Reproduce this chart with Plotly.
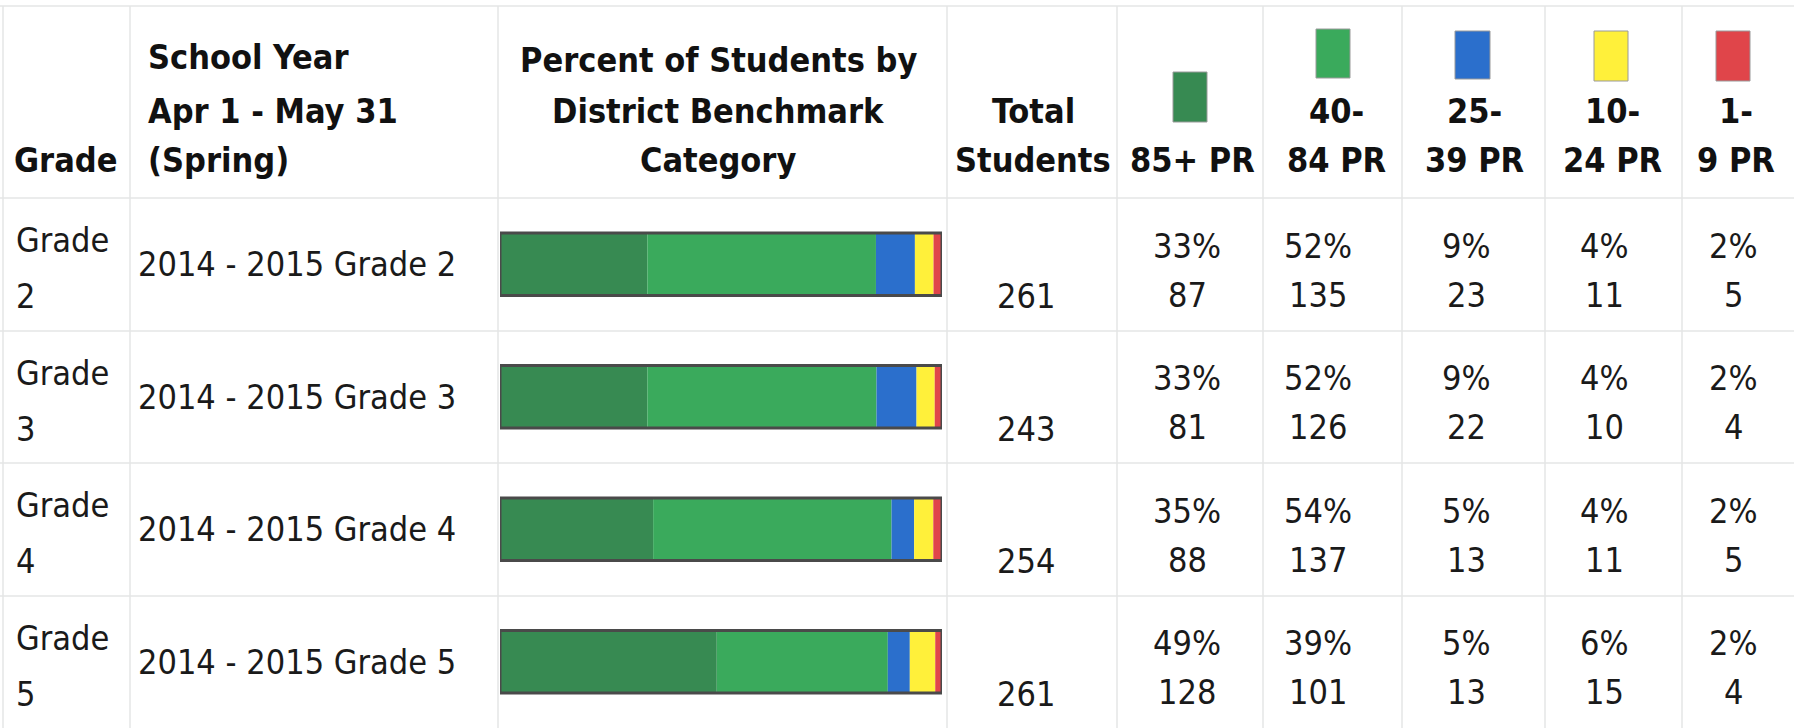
import plotly.graph_objects as go

W, H = 1794, 728

# ---------------- data ----------------
grade_top = ["Grade", "Grade", "Grade", "Grade"]
grade_num = ["2", "3", "4", "5"]
school_years = ["2014 - 2015 Grade 2", "2014 - 2015 Grade 3",
                "2014 - 2015 Grade 4", "2014 - 2015 Grade 5"]
totals = [261, 243, 254, 261]
categories = ["85+ PR", "40-84 PR", "25-39 PR", "10-24 PR", "1-9 PR"]
cat_header_top = ["", "40-", "25-", "10-", "1-"]
cat_header_bot = ["85+ PR", "84 PR", "39 PR", "24 PR", "9 PR"]
counts = {
    "85+ PR":   [87, 81, 88, 128],
    "40-84 PR": [135, 126, 137, 101],
    "25-39 PR": [23, 22, 13, 13],
    "10-24 PR": [11, 10, 11, 15],
    "1-9 PR":   [5, 4, 5, 4],
}
percents = {
    "85+ PR":   [33, 33, 35, 49],
    "40-84 PR": [52, 52, 54, 39],
    "25-39 PR": [9, 9, 5, 5],
    "10-24 PR": [4, 4, 4, 6],
    "1-9 PR":   [2, 2, 2, 2],
}
colors = ["#378a52", "#3aaa5c", "#2b6fcc", "#fff03a", "#e0454a"]

# ---------------- layout helpers ----------------
HEADER_BOTTOM = 198
FONT = "DejaVu Sans Condensed, Liberation Sans Narrow, DejaVu Sans, sans-serif"
px = lambda x: x / W
py = lambda y: 1 - y / H

fig = go.Figure()

rows = list(range(len(school_years)))
# stacked bars (fractions of total)
base = [0.0] * len(rows)
for cat, col in zip(categories, colors):
    frac = [c / t for c, t in zip(counts[cat], totals)]
    fig.add_trace(go.Bar(
        y=rows, x=frac, base=base, orientation="h", width=0.47,
        marker=dict(color=col, line=dict(width=0)), name=cat,
        hoverinfo="skip", showlegend=False,
    ))
    base = [b + f for b, f in zip(base, frac)]
# outline around each whole bar
fig.add_trace(go.Bar(
    y=rows, x=[1] * len(rows), base=[0] * len(rows), orientation="h", width=0.47,
    marker=dict(color="rgba(0,0,0,0)", line=dict(color="#4a4a4a", width=3)),
    hoverinfo="skip", showlegend=False,
))

annotations = []
def txt(x, y, s, size=34, bold=False, xanchor="center", yref="paper", color="#1a1a1a"):
    annotations.append(dict(
        x=x, y=y, xref="paper", yref=yref, text=s, showarrow=False,
        xanchor=xanchor, yanchor="middle",
        font=dict(family=FONT, size=size, color=color,
                  weight="bold" if bold else "normal"),
    ))

# header
txt(px(12), py(160), "Grade", bold=True, xanchor="left", color="#111")
for s, y in zip(["School Year", "Apr 1 - May 31", "(Spring)"], [57, 111, 160]):
    txt(px(146), py(y), s, bold=True, xanchor="left", color="#111")
for s, y in zip(["Percent of Students by", "District Benchmark", "Category"], [60, 111, 160]):
    txt(px(718), py(y), s, bold=True, color="#111")
txt(px(1033), py(111), "Total", bold=True, color="#111")
txt(px(1033), py(160), "Students", bold=True, color="#111")

col_centers = [1192, 1336, 1474, 1612, 1736]
for cx, top, bot in zip(col_centers, cat_header_top, cat_header_bot):
    if top:
        txt(px(cx), py(111), top, bold=True, color="#111")
    txt(px(cx), py(160), bot, bold=True, color="#111")

# legend swatches in header
swatches = [(1173, 1207, 72, 122), (1316, 1350, 29, 78), (1455, 1490, 31, 79),
            (1594, 1628, 31, 81), (1716, 1750, 31, 81)]
shapes = []
for (x0, x1, y0, y1), col in zip(swatches, colors):
    shapes.append(dict(type="rect", xref="paper", yref="paper",
                       x0=px(x0), x1=px(x1), y0=py(y1), y1=py(y0),
                       fillcolor=col, line=dict(color="#9a9a9a", width=1)))

# body text
val_centers = [1187, 1318, 1466, 1604, 1733]
for i in rows:
    txt(px(14), i - 0.18, grade_top[i], xanchor="left", yref="y")
    txt(px(14), i + 0.24, grade_num[i], xanchor="left", yref="y")
    txt(px(136), i, school_years[i], xanchor="left", yref="y")
    txt(px(1026), i + 0.24, str(totals[i]), yref="y")
    for cat, cx in zip(categories, val_centers):
        txt(px(cx), i - 0.14, f"{percents[cat][i]}%", yref="y")
        txt(px(cx), i + 0.23, str(counts[cat][i]), yref="y")

# grid lines
grid = "#e4e6e6"
for y in [6, HEADER_BOTTOM, 331, 463, 596]:
    shapes.append(dict(type="line", xref="paper", yref="paper", x0=0, x1=1,
                       y0=py(y), y1=py(y), line=dict(color=grid, width=1.5)))
for x in [3, 130, 498, 947, 1117, 1263, 1402, 1545, 1682]:
    shapes.append(dict(type="line", xref="paper", yref="paper", x0=px(x), x1=px(x),
                       y0=0, y1=py(6), line=dict(color=grid, width=1.5), layer="below"))

fig.update_layout(
    width=W, height=H, margin=dict(l=0, r=0, t=0, b=0),
    paper_bgcolor="white", plot_bgcolor="rgba(0,0,0,0)",
    barmode="overlay",
    xaxis=dict(domain=[px(500), px(942)], range=[0, 1], visible=False, fixedrange=True),
    yaxis=dict(domain=[0, py(HEADER_BOTTOM)], range=[3.5, -0.5], visible=False, fixedrange=True),
    annotations=annotations, shapes=shapes,
)

fig.write_html("out.html", config={"displayModeBar": False},
               post_script="document.body.style.margin='0';document.body.style.overflow='hidden';")
